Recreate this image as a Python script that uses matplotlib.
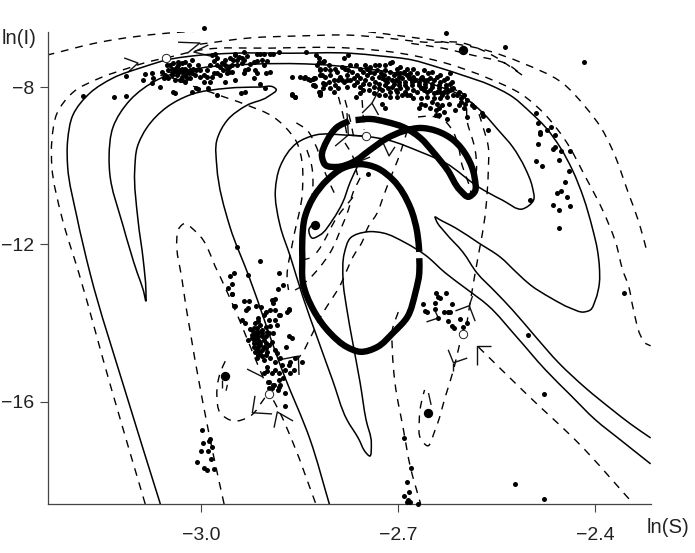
import numpy as np
import matplotlib
matplotlib.use("Agg")
import matplotlib.pyplot as plt
from matplotlib.path import Path
from matplotlib.patches import PathPatch

plt.rcParams['font.family'] = ['Liberation Sans', 'DejaVu Sans']

x_ticks = [-3.0, -2.7, -2.4]
x_tick_labels = ['\u22123.0', '\u22122.7', '\u22122.4']
y_ticks = [-8, -12, -16]
y_tick_labels = ['\u22128', '\u221212', '\u221216']

# thick periodic orbits
big_orbit_s = [-2.668,-2.671,-2.682,-2.708,-2.732,-2.758,-2.784,-2.808,-2.829,-2.842,-2.846,-2.846,-2.845,-2.829,-2.804,-2.778,-2.758,-2.732,-2.708,-2.686,-2.674,-2.668,-2.668]
big_orbit_i = [-12.19,-11.71,-11.05,-10.36,-10.06,-9.96,-10.06,-10.36,-10.80,-11.30,-11.89,-12.32,-12.98,-13.67,-14.25,-14.61,-14.73,-14.61,-14.25,-13.84,-13.23,-12.73,-12.35]
small_orbit_s = [-2.765,-2.743,-2.717,-2.692,-2.666,-2.647,-2.625,-2.606,-2.593,-2.584,-2.584,-2.595,-2.616,-2.641,-2.666,-2.692,-2.717,-2.743,-2.769,-2.793,-2.811,-2.816,-2.808,-2.793,-2.775]
small_orbit_i = [-8.84,-8.81,-8.89,-9.02,-9.30,-9.65,-10.11,-10.62,-10.79,-10.67,-10.29,-9.78,-9.35,-9.12,-9.04,-9.12,-9.30,-9.60,-9.91,-10.03,-9.98,-9.78,-9.35,-9.02,-8.86]

# solid trajectories
solid_a_s = [-3.062,-3.116,-3.169,-3.189,-3.203,-3.203,-3.195,-3.169,-3.134,-3.088,-3.052,-3.002,-2.951,-2.864,-2.773,-2.727,-2.679,-2.641,-2.602,-2.560,-2.526,-2.499,-2.476,-2.453,-2.435,-2.418,-2.405,-2.397,-2.394,-2.394,-2.400,-2.408,-2.418,-2.438,-2.468,-2.499,-2.519,-2.545,-2.578,-2.613,-2.639,-2.644,-2.642,-2.628,-2.602,-2.580,-2.552,-2.526,-2.491,-2.456,-2.415,-2.374,-2.347,-2.316]
solid_a_i = [-18.60,-15.70,-12.73,-11.30,-10.03,-9.35,-8.71,-8.15,-7.77,-7.49,-7.31,-7.19,-7.14,-7.14,-7.14,-7.21,-7.31,-7.49,-7.70,-7.95,-8.25,-8.64,-9.02,-9.55,-10.11,-10.82,-11.56,-12.14,-12.57,-12.98,-13.41,-13.67,-13.72,-13.62,-13.36,-13.03,-12.73,-12.32,-11.96,-11.58,-11.35,-11.30,-11.40,-11.71,-12.19,-12.73,-13.21,-13.67,-14.35,-15.01,-15.65,-16.21,-16.56,-16.92]
solid_b_s = [-2.316,-2.362,-2.400,-2.438,-2.476,-2.520,-2.563,-2.598,-2.628,-2.659,-2.689,-2.723,-2.747,-2.773,-2.782,-2.784,-2.778,-2.770,-2.758,-2.749,-2.741,-2.744,-2.749,-2.761,-2.778,-2.800,-2.822,-2.845,-2.864,-2.880,-2.887,-2.880,-2.854,-2.826,-2.781,-2.715,-2.666,-2.628,-2.578,-2.542,-2.511,-2.494,-2.496,-2.507,-2.526,-2.548,-2.571,-2.606,-2.644,-2.697,-2.758,-2.829,-2.925,-3.002,-3.067,-3.108,-3.134,-3.140,-3.139,-3.119,-3.097,-3.088,-3.084,-3.084,-3.088,-3.096,-3.101,-3.097,-3.082,-3.052,-3.017,-2.960,-2.910,-2.890,-2.886,-2.899,-2.930,-2.960,-2.976,-2.976,-2.956,-2.928,-2.875,-2.834,-2.804]
solid_b_i = [-17.58,-16.97,-16.46,-15.83,-15.19,-14.35,-13.56,-13.11,-12.73,-12.27,-11.96,-11.71,-11.68,-11.84,-12.22,-12.90,-13.67,-14.43,-15.52,-16.46,-17.05,-17.38,-17.30,-16.92,-16.46,-15.45,-14.43,-13.34,-12.32,-11.51,-10.62,-10.03,-9.42,-9.22,-9.22,-9.35,-9.65,-9.93,-10.54,-10.87,-11.10,-10.87,-10.54,-10.06,-9.52,-9.09,-8.66,-8.20,-7.95,-7.67,-7.52,-7.42,-7.42,-7.52,-7.82,-8.33,-9.02,-9.78,-10.19,-11.51,-12.73,-13.16,-13.44,-13.16,-12.40,-11.38,-10.11,-9.52,-9.02,-8.51,-8.20,-8.03,-8.00,-8.00,-8.05,-8.25,-8.46,-8.84,-9.35,-10.03,-11.56,-12.78,-15.27,-16.97,-18.65]
solid_c_s = [-2.761,-2.773,-2.785,-2.800,-2.819,-2.831,-2.836,-2.829]
solid_c_i = [-9.98,-10.41,-10.95,-11.38,-11.76,-11.84,-11.63,-11.46]

# dashed manifolds, one (s, i) pair per curve
dashed_curves = [
 ([-3.085,-3.136,-3.186,-3.212,-3.227,-3.227,-3.219,-3.196,-3.154,-3.111,-3.081,-3.053],
  [-18.60,-15.70,-12.73,-11.30,-10.03,-9.35,-8.66,-8.15,-7.77,-7.52,-7.36,-7.26]),
 ([-3.235,-3.154,-3.052,-2.951,-2.864,-2.773,-2.705,-2.628,-2.567,-2.511,-2.450,-2.415,-2.392,-2.374,-2.350,-2.334,-2.321],
  [-7.19,-6.86,-6.63,-6.55,-6.55,-6.55,-6.68,-6.86,-7.06,-7.39,-7.90,-8.51,-9.02,-9.60,-10.69,-11.43,-12.22]),
 ([-3.053,-3.002,-2.895,-2.773,-2.697,-2.628,-2.564,-2.511,-2.476,-2.446,-2.415,-2.389,-2.369,-2.357,-2.351,-2.342,-2.331,-2.325,-2.316],
  [-7.26,-7.06,-7.01,-7.01,-7.14,-7.39,-7.77,-8.20,-8.71,-9.35,-10.29,-11.13,-11.96,-12.73,-12.98,-13.67,-14.33,-14.50,-14.58]),
 ([-3.002,-2.925,-2.849,-2.773,-2.720,-2.659,-2.602,-2.557,-2.511,-2.532,-2.587,-2.633,-2.685],
  [-6.91,-6.75,-6.70,-6.68,-6.75,-6.86,-6.88,-7.19,-7.70,-7.44,-7.19,-7.01,-6.88]),
 ([-3.050,-3.032,-2.982,-2.930,-2.890,-2.864,-2.854,-2.849,-2.846,-2.860,-2.869,-2.867],
  [-7.59,-7.82,-8.15,-8.46,-8.76,-9.17,-9.42,-9.68,-10.69,-11.89,-12.90,-13.16]),
 ([-2.855,-2.839,-2.826,-2.811,-2.796],
  [-8.91,-9.09,-9.47,-10.19,-10.74]),
 ([-2.839,-2.832,-2.831,-2.840,-2.849],
  [-9.60,-9.98,-10.74,-11.38,-11.84]),
 ([-2.686,-2.697,-2.715,-2.723,-2.732,-2.746,-2.755,-2.769,-2.778,-2.788,-2.800,-2.814,-2.834,-2.846,-2.852],
  [-9.09,-9.68,-10.44,-10.80,-11.20,-11.56,-11.94,-12.32,-12.65,-13.03,-13.36,-13.72,-14.38,-14.76,-14.89]),
 ([-2.758,-2.769,-2.776,-2.785,-2.804,-2.819,-2.837,-2.857],
  [-10.31,-10.69,-11.13,-11.51,-12.22,-12.57,-12.90,-13.16]),
 ([-2.769,-2.796,-2.808,-2.819,-2.831],
  [-10.80,-11.38,-11.76,-12.09,-12.35]),
 ([-2.791,-2.784,-2.778], [-8.25,-8.71,-9.22]),
 ([-2.781,-2.773,-2.767], [-8.33,-8.84,-9.35]),
 ([-2.755,-2.752], [-8.33,-9.09]),
 ([-2.781,-2.770,-2.762], [-9.42,-9.73,-10.24]),
 ([-2.670,-2.651,-2.631,-2.618,-2.609,-2.603,-2.596,-2.590,-2.589],
  [-8.76,-8.74,-8.84,-9.09,-9.47,-9.98,-10.31,-10.62,-10.82]),
 ([-2.621,-2.601,-2.595,-2.583,-2.581,-2.584],
  [-8.00,-8.20,-8.89,-9.60,-10.11,-10.41]),
 ([-2.596,-2.590,-2.583,-2.567,-2.563,-2.563,-2.571,-2.580,-2.610],
  [-14.05,-13.41,-12.73,-11.13,-10.11,-9.52,-9.02,-8.58,-8.03]),
 ([-2.965,-2.982,-3.002,-3.029,-3.037,-3.035,-3.027,-3.006,-2.976,-2.951,-2.915,-2.901],
  [-18.60,-17.30,-15.60,-12.90,-11.89,-11.63,-11.48,-11.71,-12.65,-13.56,-15.01,-15.57]),
 ([-2.826,-2.860,-2.880,-2.892], [-18.57,-17.05,-16.28,-15.90]),
 ([-2.903,-2.925,-2.951,-2.971,-2.976,-2.971,-2.963],
  [-15.90,-16.36,-16.49,-16.28,-15.85,-15.27,-14.96]),
 ([-2.700,-2.709,-2.709,-2.705,-2.692,-2.682,-2.666],
  [-13.72,-14.17,-14.68,-15.52,-16.72,-17.63,-18.60]),
 ([-2.607,-2.616,-2.628,-2.644,-2.656,-2.665,-2.668,-2.666,-2.660],
  [-14.56,-15.19,-15.85,-16.72,-17.12,-16.97,-16.46,-16.11,-15.70]),
 ([-2.578,-2.502,-2.426,-2.342], [-14.61,-15.85,-17.05,-18.60]),
]

# arrow heads and short strokes along the manifolds
arrow_strokes = [
 ([-3.117,-3.096,-3.111], [-7.26,-7.39,-7.62]),
 ([-3.035,-3.002,-3.021], [-6.86,-6.88,-7.14]),
 ([-2.989,-3.011,-2.986], [-6.93,-7.11,-7.21]),
 ([-3.062,-3.020], [-7.70,-7.87]),
 ([-2.755,-2.740,-2.730], [-8.66,-8.41,-8.71]),
 ([-2.740,-2.727], [-8.41,-8.00]),
 ([-2.796,-2.776,-2.778], [-9.50,-9.22,-8.66]),
 ([-2.776,-2.749], [-9.22,-9.25]),
 ([-2.723,-2.714,-2.705], [-9.42,-9.75,-9.52]),
 ([-2.765,-2.743], [-9.93,-9.78]),
 ([-2.918,-2.922,-2.892], [-15.85,-16.28,-16.31]),
 ([-2.889,-2.884,-2.860], [-16.66,-16.26,-16.49]),
 ([-2.930,-2.906], [-15.17,-15.37]),
 ([-2.851,-2.852,-2.883], [-15.32,-14.84,-14.94]),
 ([-2.613,-2.592,-2.583], [-13.69,-13.56,-13.95]),
 ([-2.592,-2.587], [-13.56,-13.31]),
 ([-2.624,-2.616,-2.595], [-14.68,-15.01,-14.89]),
 ([-2.616,-2.616], [-15.01,-15.22]),
 ([-2.559,-2.580,-2.580], [-14.58,-14.58,-15.06]),
 ([-2.657,-2.639,-2.644], [-13.97,-13.87,-13.69]),
 ([-2.968,-2.968], [-15.45,-15.65]),
 ([-2.960,-2.962], [-15.57,-15.72]),
 ([-2.654,-2.650], [-15.78,-16.08]),
 ([-2.857,-2.846], [-13.16,-13.06]),
 ([-2.846,-2.835], [-12.40,-12.35]),
]

# fixed points
stable_s = [-2.826,-2.602,-2.963,-2.655]
stable_i = [-11.51,-7.06,-15.34,-16.28]
saddle_s = [-3.053,-2.749,-2.897,-2.602]
saddle_i = [-7.26,-9.25,-15.80,-14.28]

# observations
top_left_s = [-3.180,-3.132,-3.114,-3.114,-2.995,-3.088,-3.085,-3.075,-3.073,-3.074,-3.057,-3.060,-3.063,-3.050,-3.042,-3.037,-3.035,-3.029,-3.024,-3.019,-3.014,-3.032,-3.027,-3.037,-3.032,-3.042,-3.040,-3.014,-3.008,-3.004,-2.989,-2.976,-3.002,-2.996,-2.987,-2.981,-2.971,-2.963,-2.958,-2.948,-2.933,-2.920,-2.902,-2.895,-3.017,-3.009,-3.004,-2.991,-2.984,-2.979,-2.976,-2.981,-2.968,-2.966,-2.951,-2.943,-2.935,-2.930,-2.925,-2.915,-2.910,-2.900,-2.890,-2.882,-2.841,-2.910,-2.903,-2.933,-2.939,-2.862,-2.850,-2.842,-2.835,-2.828,-2.828,-2.862,-2.857,-2.825,-2.821,-2.813,-2.819,-2.819,-2.813,-2.820,-2.819,-3.042,-3.040,-3.047,-3.045,-3.029,-3.024,-3.022,-3.035,-3.040,-3.029,-3.024,-3.017,-3.012,-3.002,-2.984,-2.976,-2.958,-2.963,-2.946,-2.948,-2.938,-2.915,-3.052,-3.055,-3.050,-3.045,-3.037,-3.035,-3.029,-3.024,-3.019,-3.022,-3.014,-3.007,-2.996,-2.991,-2.976,-2.971,-2.961,-2.953,-2.938,-2.928,-2.918,-2.907,-2.946,-2.986,-2.963,-2.956,-2.948,-2.935,-2.920,-2.905,-2.895,-2.961,-2.953,-2.935,-2.915,-2.905]
top_left_i = [-8.23,-8.25,-8.23,-7.72,-6.50,-7.81,-7.67,-7.65,-7.76,-7.89,-7.78,-7.61,-8.01,-7.57,-7.61,-7.48,-7.36,-7.40,-7.36,-7.44,-7.31,-7.57,-7.65,-7.70,-7.82,-8.12,-8.16,-8.12,-8.02,-8.06,-8.03,-8.20,-7.74,-7.87,-7.87,-7.65,-7.70,-7.87,-7.61,-7.81,-7.57,-7.78,-7.65,-7.61,-7.78,-7.70,-7.44,-7.57,-7.19,-7.15,-7.27,-7.33,-7.40,-7.57,-7.31,-7.23,-7.10,-7.21,-7.42,-7.33,-7.15,-7.33,-7.15,-7.10,-7.10,-7.91,-8.02,-8.12,-8.14,-7.74,-7.74,-7.74,-7.81,-7.78,-7.95,-8.20,-8.26,-7.19,-7.36,-7.33,-7.53,-7.70,-7.91,-8.12,-8.20,-7.40,-7.53,-7.44,-7.70,-7.53,-7.53,-7.61,-7.44,-7.82,-7.74,-7.87,-7.57,-7.53,-7.57,-7.74,-7.65,-7.48,-7.44,-7.31,-7.19,-7.27,-7.15,-7.44,-7.70,-7.78,-7.53,-7.61,-7.65,-7.82,-7.70,-7.65,-7.78,-7.65,-7.57,-7.70,-7.74,-7.44,-7.48,-7.65,-7.44,-7.40,-7.53,-7.57,-7.31,-7.44,-7.44,-7.31,-7.27,-7.15,-7.31,-7.36,-7.15,-7.15,-7.53,-7.61,-7.65,-7.65,-7.44]

top_mid_s = [-2.821,-2.814,-2.824,-2.819,-2.816,-2.811,-2.826,-2.829,-2.814,-2.819,-2.798,-2.804,-2.793,-2.798,-2.788,-2.783,-2.791,-2.778,-2.770,-2.765,-2.758,-2.750,-2.743,-2.730,-2.710,-2.697,-2.773,-2.768,-2.758,-2.748,-2.737,-2.727,-2.720,-2.712,-2.702,-2.692,-2.682,-2.671,-2.758,-2.745,-2.735,-2.725,-2.715,-2.704,-2.694,-2.684,-2.674,-2.664,-2.654,-2.641,-2.621,-2.730,-2.720,-2.710,-2.699,-2.689,-2.679,-2.669,-2.659,-2.649,-2.638,-2.628,-2.621,-2.720,-2.712,-2.702,-2.689,-2.682,-2.671,-2.661,-2.651,-2.641,-2.631,-2.621,-2.677,-2.666,-2.656,-2.646,-2.636,-2.626,-2.610,-2.600,-2.595,-2.588,-2.641,-2.633,-2.643,-2.638,-2.626,-2.613,-2.600,-2.595,-2.659,-2.669,-2.725,-2.720,-2.765,-2.758,-2.783,-2.776,-2.712,-2.786,-2.750,-2.730,-2.699,-2.679,-2.661,-2.631,-2.651,-2.687,-2.697,-2.707,-2.717,-2.737,-2.778,-2.664,-2.633,-2.623,-2.605,-2.585,-2.746,-2.563,-2.843,-2.837,-2.829,-2.826,-2.819,-2.819,-2.814,-2.861,-2.857,-2.572,-2.571,-2.627,-2.537,-2.418,-2.806,-2.796,-2.776,-2.763,-2.753,-2.743,-2.732,-2.722,-2.707,-2.697,-2.687,-2.677,-2.666,-2.656,-2.646,-2.636,-2.753,-2.740,-2.730,-2.720,-2.710,-2.699,-2.689,-2.679,-2.669,-2.659,-2.649,-2.638,-2.628,-2.616,-2.725,-2.715,-2.704,-2.694,-2.687,-2.677,-2.666,-2.656,-2.646,-2.636,-2.626,-2.616,-2.605,-2.649,-2.638,-2.631,-2.651,-2.643,-2.666,-2.608,-2.598,-2.618,-2.608,-2.811,-2.806,-2.804,-2.796,-2.811,-2.804,-2.791,-2.781,-2.773,-2.786,-2.768,-2.763,-2.778,-2.745,-2.737,-2.753,-2.730,-2.712,-2.702,-2.748,-2.735,-2.720,-2.702,-2.687,-2.677,-2.661,-2.649,-2.636,-2.626]
top_mid_i = [-7.27,-7.36,-7.44,-7.57,-7.70,-7.91,-7.78,-7.95,-8.03,-8.16,-8.12,-7.70,-7.61,-7.82,-7.74,-7.86,-8.03,-7.70,-7.61,-7.44,-7.53,-7.44,-7.48,-7.44,-7.36,-7.48,-7.82,-7.95,-7.78,-7.70,-7.65,-7.65,-7.57,-7.61,-7.65,-7.61,-7.65,-7.65,-7.99,-7.91,-7.86,-7.78,-7.78,-7.82,-7.78,-7.78,-7.82,-7.74,-7.65,-7.74,-7.65,-8.03,-7.95,-7.99,-7.95,-7.95,-7.95,-7.95,-7.91,-7.91,-7.95,-8.03,-7.91,-8.20,-8.12,-8.12,-8.12,-8.20,-8.12,-8.08,-8.08,-8.12,-8.12,-8.08,-8.29,-8.29,-8.25,-8.29,-8.29,-8.25,-8.20,-8.20,-8.33,-8.46,-8.42,-8.46,-8.58,-8.71,-8.80,-8.58,-8.54,-8.75,-8.46,-8.54,-8.42,-8.54,-8.25,-8.16,-7.27,-7.19,-7.40,-7.82,-7.82,-7.74,-7.74,-7.82,-7.82,-7.82,-7.78,-8.03,-8.03,-7.91,-7.86,-7.99,-7.99,-8.03,-8.20,-8.42,-8.37,-8.50,-10.21,-9.09,-7.77,-7.80,-7.80,-7.97,-8.13,-8.18,-7.90,-8.18,-8.25,-8.66,-8.73,-6.63,-6.98,-7.36,-7.87,-7.95,-7.57,-7.70,-7.61,-7.61,-7.57,-7.70,-7.70,-7.65,-7.70,-7.74,-7.78,-7.82,-7.82,-7.86,-7.91,-7.78,-7.91,-7.82,-7.82,-7.86,-7.86,-7.86,-7.86,-7.99,-7.99,-8.03,-7.95,-8.03,-8.08,-8.03,-8.08,-8.20,-8.20,-8.08,-8.03,-8.12,-8.16,-8.12,-8.12,-8.20,-8.29,-8.37,-8.54,-8.63,-8.54,-8.71,-8.42,-8.46,-8.42,-7.86,-8.12,-7.53,-7.44,-7.57,-7.53,-7.74,-8.03,-7.82,-7.53,-7.44,-7.48,-7.78,-7.86,-7.82,-8.08,-8.16,-8.08,-8.20,-8.25,-8.25,-7.53,-7.44,-7.44,-7.53,-7.53,-7.53,-7.57,-7.61,-7.70,-7.78]

right_s = [-2.490,-2.488,-2.485,-2.485,-2.473,-2.468,-2.461,-2.488,-2.462,-2.464,-2.453,-2.438,-2.490,-2.482,-2.456,-2.440,-2.447,-2.459,-2.452,-2.444,-2.464,-2.438,-2.455,-2.456,-2.499]
right_i = [-8.66,-8.91,-9.14,-9.19,-9.09,-9.02,-9.22,-9.45,-9.52,-9.58,-9.63,-9.63,-9.88,-10.01,-9.85,-10.13,-10.41,-10.69,-10.64,-10.79,-11.00,-11.02,-11.13,-11.58,-10.87]

lower_left_s = [-2.953,-2.948,-2.935,-2.927,-2.932,-2.929,-2.917,-2.909,-2.902,-2.895,-2.890,-2.892,-2.887,-2.888,-2.882,-2.880,-2.867,-2.869,-2.897,-2.887,-2.895,-2.885,-2.938,-2.933,-2.925,-2.920,-2.913,-2.913,-2.905,-2.910,-2.900,-2.918,-2.923,-2.913,-2.908,-2.897,-2.890,-2.928,-2.920,-2.913,-2.905,-2.892,-2.920,-2.913,-2.905,-2.897,-2.918,-2.910,-2.902,-2.887,-2.885,-2.867,-2.861,-2.871,-2.915,-2.905,-2.895,-2.880,-2.864,-2.857,-2.847,-2.900,-2.887,-2.877,-2.867,-2.859,-2.905,-2.892,-2.882,-2.872,-2.864,-2.875,-2.882,-2.897,-2.889,-2.880,-2.897,-2.900,-2.887,-2.872,-2.872,-2.898,-2.890,-2.881,-2.883,-2.892,-2.945,-2.910,-2.881,-2.956,-2.950,-2.928,-2.953,-2.959,-2.953,-2.883,-2.875,-2.950,-2.867,-2.918,-2.915,-2.908,-2.902,-2.917,-2.910,-2.901,-2.915,-2.908,-2.913,-2.908,-2.923,-2.918,-2.915,-2.908,-2.902,-2.910,-2.902,-2.900,-2.913,-2.920,-2.915,-2.923]
lower_left_i = [-13.26,-13.56,-13.43,-13.43,-13.68,-13.62,-13.56,-13.58,-13.71,-13.67,-13.50,-13.41,-13.40,-13.67,-13.79,-13.79,-13.67,-13.73,-13.92,-13.92,-14.07,-14.05,-13.92,-14.01,-14.16,-14.13,-13.96,-13.88,-13.79,-14.05,-14.22,-14.26,-14.30,-14.22,-14.34,-14.26,-14.26,-14.43,-14.43,-14.43,-14.43,-14.47,-14.60,-14.60,-14.60,-14.56,-14.73,-14.73,-14.81,-14.68,-14.77,-14.33,-14.38,-14.62,-14.89,-14.94,-14.89,-14.89,-14.98,-14.89,-14.98,-15.11,-15.19,-15.06,-15.06,-15.19,-15.28,-15.28,-15.28,-15.19,-15.28,-15.40,-15.45,-15.49,-15.57,-15.57,-15.66,-15.23,-14.98,-15.78,-16.11,-15.50,-15.57,-15.62,-15.70,-15.65,-12.07,-12.42,-12.73,-12.80,-12.73,-12.78,-13.01,-13.11,-13.26,-13.13,-13.03,-13.56,-13.64,-14.01,-14.13,-14.17,-14.09,-14.34,-14.47,-14.51,-14.51,-14.68,-14.81,-14.85,-14.17,-14.39,-14.22,-14.26,-14.34,-14.56,-14.64,-14.73,-14.34,-14.51,-14.68,-14.39]

bottom_left_s = [-2.998,-2.997,-2.988,-2.986,-2.983,-3.000,-2.989,-2.985,-3.006,-2.995,-2.991,-2.980]
bottom_left_i = [-16.72,-17.05,-17.00,-16.94,-17.15,-17.25,-17.25,-17.45,-17.53,-17.68,-17.73,-17.71]

saddle_group_s = [-2.642,-2.628,-2.639,-2.636,-2.644,-2.618,-2.662,-2.644,-2.660,-2.656,-2.631,-2.625,-2.622,-2.639,-2.624,-2.606,-2.595,-2.618,-2.615,-2.602]
saddle_group_i = [-13.23,-13.23,-13.34,-13.36,-13.49,-13.51,-13.51,-13.64,-13.69,-13.72,-13.72,-13.72,-13.72,-13.87,-13.95,-13.90,-14.00,-14.07,-14.12,-14.10]

scattered_s = [-2.357,-2.503,-2.479,-2.522,-2.479,-2.691,-2.680,-2.686,-2.683,-2.691,-2.685,-2.682,-2.686,-2.670]
scattered_i = [-13.23,-14.30,-15.80,-18.09,-18.47,-16.92,-17.68,-18.04,-18.29,-18.39,-18.49,-18.55,-18.55,-18.60]

fig = plt.figure(figsize=(6.95, 5.53), dpi=100)
ax = fig.add_axes([47.5/695, 49/553, 603/695, 472/553])
ax.set_xlim(-3.2337, -2.3162)
ax.set_ylim(-18.6, -6.6)
ax.spines['top'].set_visible(False)
ax.spines['right'].set_visible(False)
for side in ('left', 'bottom'):
    ax.spines[side].set_color('#444444')
    ax.spines[side].set_linewidth(0.9)

ax.set_xticks(x_ticks, x_tick_labels)
ax.set_yticks(y_ticks, y_tick_labels)
ax.tick_params(axis='x', length=5.8, width=0.8, color='#444444', labelsize=14, pad=10.5, labelcolor='#222222')
ax.tick_params(axis='y', length=5.8, width=0.8, color='#444444', labelsize=14, pad=4, labelcolor='#222222')


def smooth_stroke(s, i, **style):
    """Stroke a curve through the read points as Bezier segments, in data coordinates."""
    pts = np.column_stack([s, i])
    rel = pts * np.array([656.7, 39.35])
    gaps = np.maximum(np.linalg.norm(np.diff(rel, axis=0), axis=1), 1e-6)
    tang = np.zeros_like(pts)
    tang[0] = (pts[1] - pts[0]) / gaps[0]
    tang[-1] = (pts[-1] - pts[-2]) / gaps[-1]
    for k in range(1, len(pts) - 1):
        a, b = gaps[k - 1], gaps[k]
        tang[k] = ((pts[k] - pts[k - 1]) / a * b + (pts[k + 1] - pts[k]) / b * a) / (a + b)
    verts, codes = [pts[0]], [Path.MOVETO]
    for k in range(len(pts) - 1):
        verts += [pts[k] + tang[k] * gaps[k] / 3, pts[k + 1] - tang[k + 1] * gaps[k] / 3, pts[k + 1]]
        codes += [Path.CURVE4] * 3
    ax.add_patch(PathPatch(Path(verts, codes), fill=False, edgecolor='black', **style))


for s, i in dashed_curves:
    smooth_stroke(s, i, lw=1.0, ls=(0, (5.6, 5)), zorder=2)
for s, i in arrow_strokes:
    ax.plot(s, i, color='#111111', lw=1.0, solid_capstyle='butt', zorder=2)
for s, i in [(solid_a_s, solid_a_i), (solid_b_s, solid_b_i), (solid_c_s, solid_c_i)]:
    smooth_stroke(s, i, lw=1.1, joinstyle='round', zorder=3)
for s, i in [(big_orbit_s, big_orbit_i), (small_orbit_s, small_orbit_i)]:
    smooth_stroke(s, i, lw=4.6, capstyle='butt', joinstyle='round', zorder=4)

for s, i in [(top_left_s, top_left_i), (top_mid_s, top_mid_i), (right_s, right_i),
             (lower_left_s, lower_left_i), (bottom_left_s, bottom_left_i),
             (saddle_group_s, saddle_group_i), (scattered_s, scattered_i)]:
    ax.scatter(s, i, s=13, color='black', linewidths=0, zorder=5, clip_on=False)
ax.scatter(stable_s, stable_i, s=45, color='black', linewidths=0, zorder=6)
ax.scatter(saddle_s, saddle_i, s=36, facecolor='white', edgecolor='#222222', linewidths=0.7, zorder=6)

fig.text(2/695, 1-44/553, 'ln(I)', fontsize=14.6, color='#222222', va='baseline', ha='left')
fig.text(647/695, 1-533/553, 'ln(S)', fontsize=14.6, color='#222222', va='baseline', ha='left')

fig.savefig('out.png', dpi=100)
